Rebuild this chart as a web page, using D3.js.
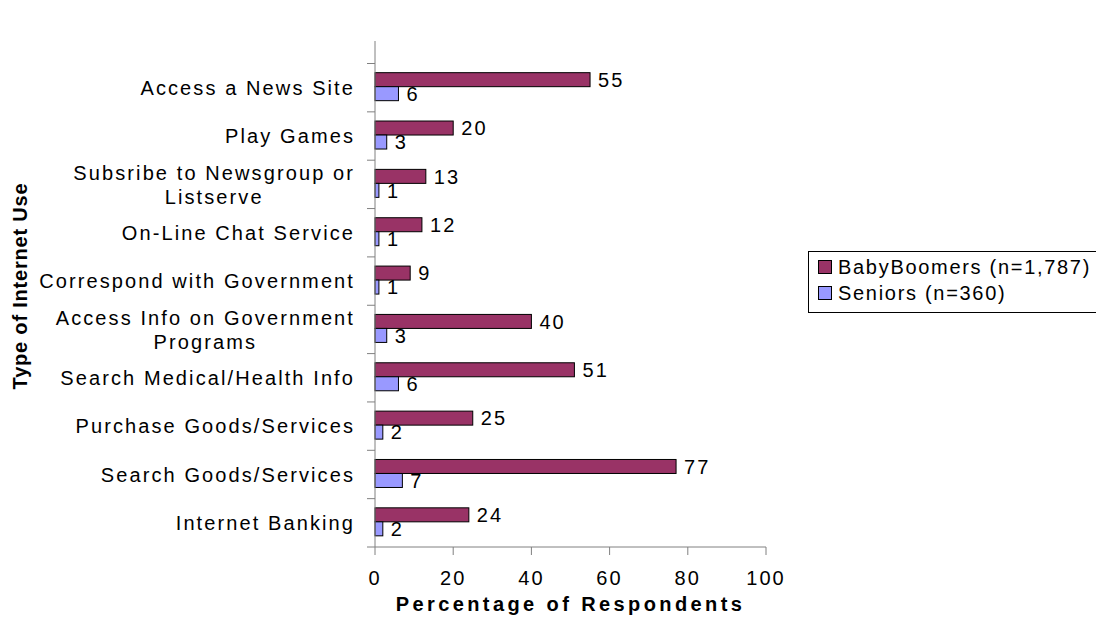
<!DOCTYPE html>
<html>
<head>
<meta charset="utf-8">
<script src="https://cdn.jsdelivr.net/npm/d3@7"></script>
<style>
  body { margin: 0; background: #fff; }
  text { font-family: "Liberation Sans", Arial, sans-serif; fill: #000; }
</style>
</head>
<body>
<div id="chart"></div>
<script>
//chart data, top category first
var categories = [
    "Access a News Site",
    "Play Games",
    "Subsribe to Newsgroup or Listserve",
    "On-Line Chat Service",
    "Correspond with Government",
    "Access Info on Government Programs",
    "Search Medical/Health Info",
    "Purchase Goods/Services",
    "Search Goods/Services",
    "Internet Banking"
];
//label lines for the wrapped categories
var categoryLines = [
    ["Access a News Site"],
    ["Play Games"],
    ["Subsribe to Newsgroup or", "Listserve"],
    ["On-Line Chat Service"],
    ["Correspond with Government"],
    ["Access Info on Government", "Programs"],
    ["Search Medical/Health Info"],
    ["Purchase Goods/Services"],
    ["Search Goods/Services"],
    ["Internet Banking"]
];
var boomers = [55, 20, 13, 12, 9, 40, 51, 25, 77, 24];
var seniors = [6, 3, 1, 1, 1, 3, 6, 2, 7, 2];
var seriesNames = ["BabyBoomers (n=1,787)", "Seniors (n=360)"];
var seriesColors = ["#993366", "#9999ff"];
var xTicks = [0, 20, 40, 60, 80, 100];

//svg dimensions
var svgWidth = 1096;
var svgHeight = 625;

//plot area
var plot = { left: 375, right: 766, top: 63.5, bottom: 547, axisTop: 41 };

//shared text look
var fontSize = "20px";
var spacing = "2.1px";

var svg = d3.select("#chart")
    .append("svg")
    .attr("width", svgWidth)
    .attr("height", svgHeight);

//scales
var xScale = d3.scaleLinear()
    .domain([0, 100])
    .range([plot.left, plot.right]);

var yScale = d3.scaleBand()
    .domain(categories)
    .range([plot.top, plot.bottom]);

var barH = 14;
var step = yScale.bandwidth();

//bars
var series = [boomers, seniors];
series.forEach(function(values, s) {
    var g = svg.append("g");
    g.selectAll("rect")
        .data(values)
        .enter()
        .append("rect")
        .attr("x", xScale(0))
        .attr("y", (d, i) => yScale(categories[i]) + step / 2 - barH - 1 + s * barH)
        .attr("width", d => xScale(d) - xScale(0))
        .attr("height", barH)
        .attr("fill", seriesColors[s])
        .attr("stroke", "#000")
        .attr("stroke-width", 1);

    //value labels
    g.selectAll("text")
        .data(values)
        .enter()
        .append("text")
        .attr("x", d => xScale(d) + 8)
        .attr("y", (d, i) => yScale(categories[i]) + step / 2 - barH / 2 - 1 + s * barH)
        .attr("dy", "0.36em")
        .attr("font-size", fontSize)
        .attr("letter-spacing", spacing)
        .text(d => d);
});

//y axis
svg.append("line")
    .attr("x1", plot.left).attr("x2", plot.left)
    .attr("y1", plot.axisTop).attr("y2", plot.bottom)
    .attr("stroke", "#808080");

var yTickPos = categories.map(c => yScale(c)).concat([plot.bottom]);
svg.selectAll(".ytick")
    .data(yTickPos)
    .enter()
    .append("line")
    .attr("x1", plot.left - 8).attr("x2", plot.left)
    .attr("y1", d => d).attr("y2", d => d)
    .attr("stroke", "#808080");

//category labels, wrapped ones centred under their widest line
var labelRight = 355;
svg.selectAll(".cat")
    .data(categoryLines)
    .enter()
    .append("text")
    .attr("font-size", fontSize)
    .attr("letter-spacing", spacing)
    .each(function(lines, i) {
        var cy = yScale(categories[i]) + step / 2;
        var t = d3.select(this);
        var spans = lines.map(function(line, j) {
            return t.append("tspan")
                .attr("y", cy + (j - (lines.length - 1) / 2) * 24)
                .attr("dy", "0.36em")
                .text(line);
        });
        if (lines.length > 1) {
            var w = d3.max(spans, sp => sp.node().getComputedTextLength());
            t.attr("text-anchor", "middle");
            spans.forEach(sp => sp.attr("x", labelRight - w / 2));
        } else {
            t.attr("text-anchor", "end");
            spans.forEach(sp => sp.attr("x", labelRight));
        }
    });

//x axis
svg.append("line")
    .attr("x1", plot.left).attr("x2", plot.right)
    .attr("y1", plot.bottom).attr("y2", plot.bottom)
    .attr("stroke", "#808080");

svg.selectAll(".xtick")
    .data(xTicks)
    .enter()
    .append("line")
    .attr("x1", d => xScale(d)).attr("x2", d => xScale(d))
    .attr("y1", plot.bottom).attr("y2", plot.bottom + 8)
    .attr("stroke", "#808080");

svg.selectAll(".xlabel")
    .data(xTicks)
    .enter()
    .append("text")
    .attr("x", d => xScale(d))
    .attr("y", 578)
    .attr("dy", "0.36em")
    .attr("text-anchor", "middle")
    .attr("font-size", fontSize)
    .attr("letter-spacing", spacing)
    .text(d => d);

//axis titles
svg.append("text")
    .attr("x", (plot.left + plot.right) / 2)
    .attr("y", 604)
    .attr("dy", "0.36em")
    .attr("text-anchor", "middle")
    .attr("font-size", "20px")
    .attr("font-weight", "bold")
    .attr("letter-spacing", "3.4px")
    .text("Percentage of Respondents");

svg.append("text")
    .attr("transform", "translate(20, 286) rotate(-90)")
    .attr("dy", "0.36em")
    .attr("text-anchor", "middle")
    .attr("font-size", "20px")
    .attr("font-weight", "bold")
    .attr("letter-spacing", "0.8px")
    .text("Type of Internet Use");

//legend (box runs off the right edge, as in the original)
var legend = svg.append("g");
legend.append("rect")
    .attr("x", 808.5).attr("y", 251.5)
    .attr("width", 300).attr("height", 61)
    .attr("fill", "#fff")
    .attr("stroke", "#000");

seriesNames.forEach(function(name, i) {
    var cy = 267 + i * 26;
    legend.append("rect")
        .attr("x", 818.5).attr("y", cy - 6.5)
        .attr("width", 13).attr("height", 13)
        .attr("fill", seriesColors[i])
        .attr("stroke", "#000");
    legend.append("text")
        .attr("x", 838)
        .attr("y", cy)
        .attr("dy", "0.36em")
        .attr("font-size", fontSize)
        .attr("letter-spacing", "1.7px")
        .text(name);
});
</script>
</body>
</html>
